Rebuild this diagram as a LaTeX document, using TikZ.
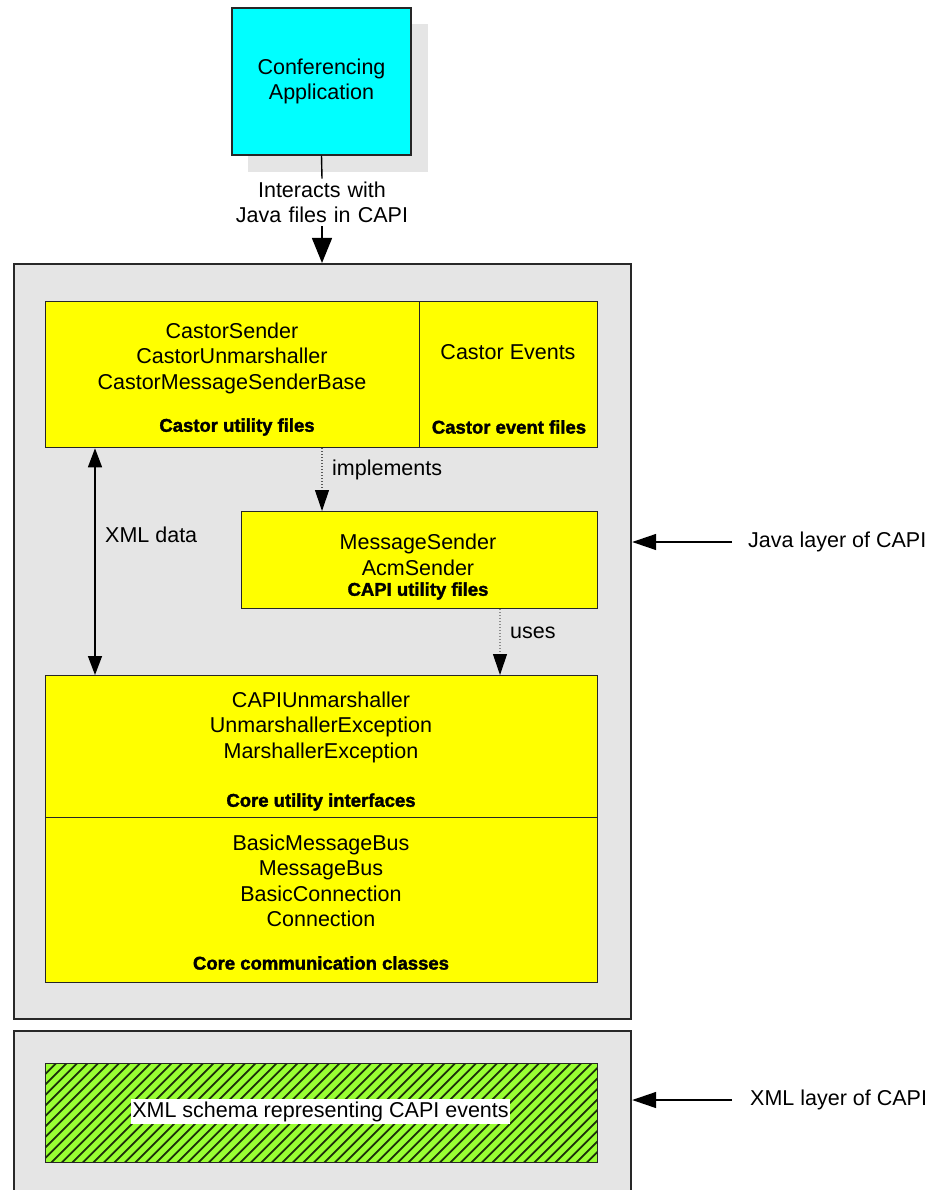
\documentclass[tikz,border=0pt]{standalone}
\usepackage{fontspec}
\setmainfont{Liberation Sans}
\newfontfamily\capfont[BoldFeatures={FakeBold=1.8}]{Liberation Sans}
\usetikzlibrary{arrows.meta}

\definecolor{appcyan}{RGB}{0,255,255}
\definecolor{fileyellow}{RGB}{255,255,0}
\definecolor{layergrey}{RGB}{229,229,229}
\definecolor{shadowgrey}{RGB}{229,229,229}
\definecolor{layeredge}{RGB}{40,40,40}
\definecolor{schemagreen}{RGB}{153,255,51}
\definecolor{hatchdark}{RGB}{28,48,10}

\begin{document}
\begin{tikzpicture}[x=1pt,y=-1pt,
  font=\fontsize{21.5pt}{25.5pt}\selectfont,
  every node/.style={inner sep=0pt},
  layerbox/.style={draw=layeredge, line width=2.2pt, fill=layergrey, anchor=north west},
  filebox/.style={draw=black!85, line width=1.3pt, fill=fileyellow, anchor=north west},
  caption/.style={font=\fontsize{18.5pt}{22pt}\selectfont\capfont\bfseries},
  plaintext/.style={align=center},
  solidarrow/.style={draw=black, line width=1.4pt},
  bigtip/.style={-{Triangle[length=25pt,width=20pt]}},
  sidetip/.style={-{Triangle[length=24pt,width=16pt]}},
  dottip/.style={-{Triangle[length=21pt,width=14pt,black]}},
  dotline/.style={line width=1.1pt, dash pattern=on 1pt off 2pt},
  hatchline/.style={draw=hatchdark, line width=1.8pt}
]
\useasboundingbox (0,0) rectangle (937,1190);
\clip (0,0) rectangle (937,1190);
\fill[white] (0,0) rectangle (937,1190);

% application on top with its drop shadow
\fill[shadowgrey] (248,24) rectangle (428,172);
\node[draw=black!85, line width=1.3pt, fill=appcyan, minimum width=179pt, minimum height=147pt, align=center]
  (app) at (321.5,81.5) {Conferencing\\Application};

% the two layers
\node[layerbox, minimum width=617pt, minimum height=755pt] (java) at (13,263) {};
\node[layerbox, minimum width=617pt, minimum height=200pt] (xml) at (13,1030) {};

% application talks to the Java layer
\node[fill=white, inner sep=3pt, align=center, text width=180pt] (interact) at (322,202.5)
  {Interacts with\\Java files in CAPI};
\draw[solidarrow] (app.south) -- (interact.north);
\draw[solidarrow, bigtip] (interact.south) -- (interact.south |- java.north);

% Castor files
\node[filebox, minimum width=374pt, minimum height=146pt] (cutil) at (45,301) {};
\node[filebox, minimum width=178pt, minimum height=146pt] (cevt) at (419,301) {};
\node[plaintext] (cutiltxt) at (232,358) {CastorSender\\CastorUnmarshaller\\CastorMessageSenderBase};
\node[caption] (cutilcap) at (237,427) {Castor utility files};
\node (cevttxt) at (508,352) {Castor Events};
\node[caption] (cevtcap) at (509,427) {Castor event files};

% CAPI utility files
\node[filebox, minimum width=356pt, minimum height=97pt] (capi) at (241,511) {};
\node[plaintext] (capitxt) at (418,555) {MessageSender\\AcmSender};
\node[caption] (capicap) at (418,591) {CAPI utility files};

% core interfaces and classes
\node[filebox, minimum width=552pt, minimum height=142pt] (core) at (45,675) {};
\node[filebox, minimum width=552pt, minimum height=165pt] (comm) at (45,817) {};
\node[plaintext] (coretxt) at (321,727) {CAPIUnmarshaller\\UnmarshallerException\\MarshallerException};
\node[caption] (corecap) at (321,802) {Core utility interfaces};
\node[plaintext] (commtxt) at (321,881) {BasicMessageBus\\MessageBus\\BasicConnection\\Connection};
\node[caption] (commcap) at (321,963) {Core communication classes};

% relations inside the Java layer
\coordinate (impx) at (322,0);
\coordinate (usex) at (500,0);
\coordinate (datax) at (95,0);
\draw[dotline, draw=black!65, dottip] (cutil.south -| impx) -- (capi.north -| impx);
\node[anchor=west] (implab) at (332,470) {implements};
\draw[dotline, draw=black!45, dottip] (capi.south -| usex) -- (core.north -| usex);
\node[anchor=west] (uselab) at (510,633) {uses};
\draw[solidarrow, {Triangle[length=19pt,width=14pt]}-{Triangle[length=19pt,width=14pt]}]
  (cutil.south -| datax) -- (core.north -| datax);
\node[anchor=west] (datalab) at (105,535) {XML data};

% XML schema
\node[draw=black!85, line width=1.3pt, fill=schemagreen, anchor=north west,
      minimum width=552pt, minimum height=99pt,
      path picture={
        \foreach \k in {0,...,66}
          \draw[hatchline] ([xshift=\k*10.5pt-110pt]path picture bounding box.south west) -- ++(112,-112);
      }] (schema) at (45,1063) {};
\node[fill=white, inner xsep=1.5pt, inner ysep=2pt, text height=16pt, text depth=5pt]
  (schematxt) at (320.5,1111.5) {XML schema representing CAPI events};

% layer names
\coordinate (javatail) at (732,542);
\coordinate (xmltail) at (732,1100);
\draw[solidarrow, sidetip] (javatail) -- (javatail -| java.east);
\node[anchor=west] (javalab) at (748,542) {Java layer of CAPI};
\draw[solidarrow, sidetip] (xmltail) -- (xmltail -| xml.east);
\node[anchor=west] (xmllab) at (750,1100) {XML layer of CAPI};
\end{tikzpicture}
\end{document}
